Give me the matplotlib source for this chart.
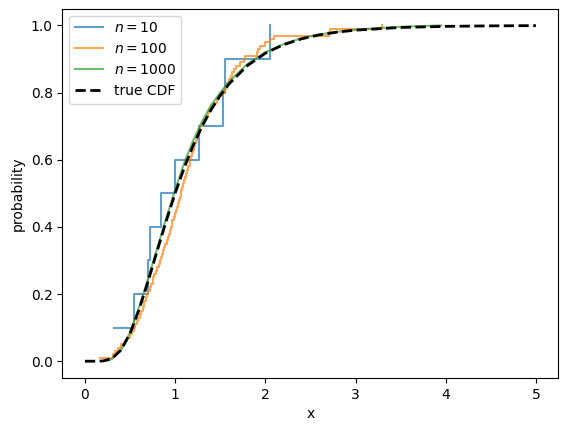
import numpy as np
import matplotlib
matplotlib.use('Agg')
import matplotlib.pyplot as plt

# sample of size 10 (sorted), read from the blue steps
sample_10 = [0.324, 0.545, 0.70, 0.725, 0.848, 0.999, 1.265, 1.534, 1.552, 2.05]

# sample of size 100 (sorted), read from the orange steps
sample_100 = [0.17, 0.31, 0.33, 0.37, 0.40, 0.44, 0.47, 0.50, 0.52, 0.54,
              0.56, 0.58, 0.59, 0.61, 0.62, 0.64, 0.65, 0.66, 0.68, 0.69,
              0.70, 0.72, 0.73, 0.75, 0.76, 0.77, 0.79, 0.80, 0.82, 0.83,
              0.84, 0.86, 0.87, 0.88, 0.89, 0.91, 0.92, 0.93, 0.94, 0.95,
              0.96, 0.97, 0.99, 1.00, 1.01, 1.02, 1.03, 1.04, 1.05, 1.06,
              1.07, 1.08, 1.09, 1.10, 1.11, 1.12, 1.13, 1.14, 1.16, 1.17,
              1.18, 1.19, 1.20, 1.21, 1.22, 1.23, 1.24, 1.25, 1.27, 1.28,
              1.30, 1.32, 1.34, 1.36, 1.38, 1.40, 1.43, 1.46, 1.49, 1.52,
              1.54, 1.56, 1.58, 1.60, 1.62, 1.63, 1.65, 1.68, 1.72, 1.76,
              1.78, 1.91, 1.92, 1.94, 2.00, 2.05, 2.10, 2.71, 2.72, 3.29]

# n = 1000: steps are below pixel size, so keep the curve as read
ecdf_1000_x = [0.25, 0.3, 0.4, 0.5, 0.6, 0.7, 0.8, 0.9, 1.0, 1.1, 1.2, 1.3, 1.4,
               1.5, 1.6, 1.8, 2.0, 2.2, 2.4, 2.6, 2.8, 3.0, 3.3, 3.6, 3.95]
ecdf_1000_y = [0.001, 0.007, 0.033, 0.085, 0.16, 0.245, 0.335, 0.425, 0.51, 0.59,
               0.657, 0.715, 0.763, 0.80, 0.833, 0.885, 0.92, 0.944, 0.962, 0.973,
               0.981, 0.987, 0.993, 0.997, 1.0]

# true CDF
cdf_x = [0, 0.1, 0.2, 0.3, 0.4, 0.5, 0.6, 0.7, 0.8, 0.9, 1.0, 1.1, 1.2, 1.3, 1.4,
         1.5, 1.6, 1.8, 2.0, 2.2, 2.4, 2.6, 2.8, 3.0, 3.5, 4.0, 4.5, 5.0]
cdf_y = [0.0, 0.0, 0.0006, 0.008, 0.0334, 0.0829, 0.1535, 0.2379, 0.3278, 0.4165,
         0.5, 0.5756, 0.6423, 0.7002, 0.7495, 0.7913, 0.8264, 0.8801, 0.9172,
         0.9426, 0.96, 0.972, 0.9803, 0.986, 0.9939, 0.9972, 0.9987, 0.9994]

fig = plt.figure(figsize=(5.67, 4.32), dpi=100)
ax = fig.add_subplot(111)
fig.subplots_adjust(left=0.11, right=0.985, top=0.98, bottom=0.125)

for s, lab in [(sample_10, '$n=10$'), (sample_100, '$n=100$')]:
    y = np.arange(1, len(s) + 1) / len(s)
    ax.step(s, y, where='post', alpha=0.7, label=lab)
ax.plot(ecdf_1000_x, ecdf_1000_y, alpha=0.7, label='$n=1000$')
ax.plot(cdf_x, cdf_y, 'k--', linewidth=2, label='true CDF')

ax.set_xlabel('x')
ax.set_ylabel('probability')
ax.legend(loc='upper left')
fig.savefig('out.png')
